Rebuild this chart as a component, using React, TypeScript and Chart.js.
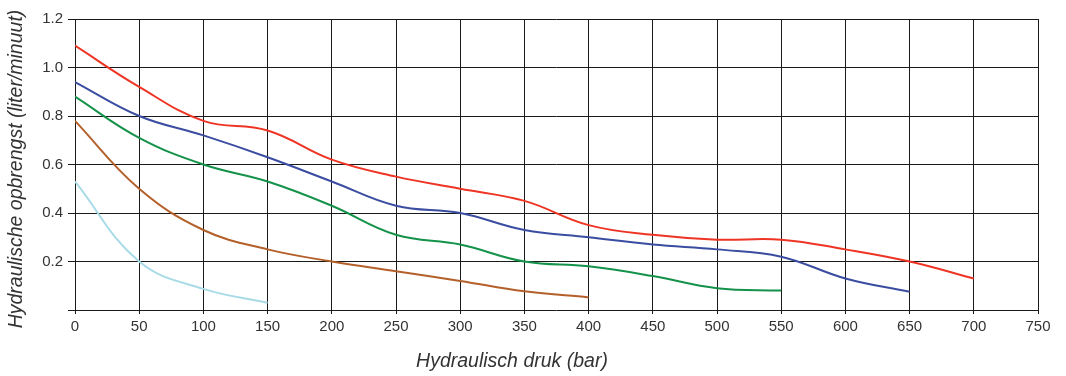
import React, { useEffect, useRef } from "react";
import { Chart, registerables } from "chart.js";

Chart.register(...registerables);

const pressures = [0, 50, 100, 150, 200, 250, 300, 350, 400, 450, 500, 550, 600, 650, 700];

const redValues = [1.09, 0.92, 0.78, 0.74, 0.62, 0.55, 0.50, 0.45, 0.35, 0.31, 0.29, 0.29, 0.25, 0.20, 0.13];
const blueValues = [0.94, 0.80, 0.72, 0.63, 0.53, 0.43, 0.40, 0.33, 0.30, 0.27, 0.25, 0.22, 0.13, 0.075];
const greenValues = [0.88, 0.71, 0.60, 0.53, 0.43, 0.31, 0.27, 0.20, 0.18, 0.14, 0.09, 0.08];
const brownValues = [0.78, 0.50, 0.33, 0.25, 0.20, 0.16, 0.12, 0.077, 0.052];
const lightBlueValues = [0.53, 0.20, 0.087, 0.03];

const yTickLabels = ["", "0.2", "0.4", "0.6", "0.8", "1.0", "1.2"];

const xTitle = "Hydraulisch druk (bar)";
const yTitle = "Hydraulische opbrengst (liter/minuut)";

function toPoints(values: number[]) {
  return values.map((v, i) => ({ x: pressures[i], y: v }));
}

const titlesPlugin = {
  id: "titlesPlugin",
  afterDraw(chart: any) {
    const c = chart.ctx;
    c.save();
    c.font = "italic 19.5px 'Liberation Sans'";
    c.fillStyle = "#333";
    c.textAlign = "center";
    c.textBaseline = "middle";
    c.fillText(xTitle, 512, 362);
    c.translate(17, 169);
    c.rotate(-Math.PI / 2);
    c.fillText(yTitle, 0, 0);
    c.restore();
  },
};

export default function App() {
  const ref = useRef<HTMLCanvasElement | null>(null);

  useEffect(() => {
    document.body.style.margin = "0";
    const ctx = ref.current!;
    const mk = (label: string, values: number[], color: string) => ({
      label,
      data: toPoints(values),
      borderColor: color,
      backgroundColor: color,
      borderWidth: 2,
      pointRadius: 0,
      tension: 0.4,
      fill: false,
    });
    const chart = new Chart(ctx, {
      type: "line",
      data: {
        datasets: [
          mk("rood", redValues, "#ee3424"),
          mk("blauw", blueValues, "#3a4da0"),
          mk("groen", greenValues, "#14924a"),
          mk("bruin", brownValues, "#b4602a"),
          mk("lichtblauw", lightBlueValues, "#a8dbe6"),
        ],
      },
      plugins: [titlesPlugin],
      options: {
        animation: false,
        responsive: false,
        maintainAspectRatio: false,
        layout: { padding: { top: 19, right: 28, left: 0, bottom: 0 } },
        plugins: { legend: { display: false }, tooltip: { enabled: false } },
        scales: {
          x: {
            type: "linear",
            min: 0,
            max: 750,
            ticks: {
              stepSize: 50,
              color: "#333",
              font: { family: "Liberation Sans", size: 15 },
              padding: 4,
              maxRotation: 0,
            },
            grid: { color: "#1a1a1a", lineWidth: 1, drawTicks: true, tickLength: 4 },
            border: { display: false },
            title: { display: false },
            afterFit: (scale: any) => {
              scale.height = 66;
            },
          },
          y: {
            type: "linear",
            min: 0,
            max: 1.2,
            ticks: {
              stepSize: 0.2,
              color: "#333",
              font: { family: "Liberation Sans", size: 15 },
              padding: 5,
              callback: (_v: any, i: number) => yTickLabels[i],
            },
            grid: { color: "#1a1a1a", lineWidth: 1, drawTicks: true, tickLength: 7 },
            border: { display: false },
            title: { display: false },
            afterFit: (scale: any) => {
              scale.width = 75;
            },
          },
        },
      },
    });
    return () => chart.destroy();
  }, []);

  return (
    <div style={{ position: "absolute", left: 0, top: 0, width: 1066, height: 376 }}>
      <canvas ref={ref} width={1066} height={376} style={{ display: "block" }} />
    </div>
  );
}
